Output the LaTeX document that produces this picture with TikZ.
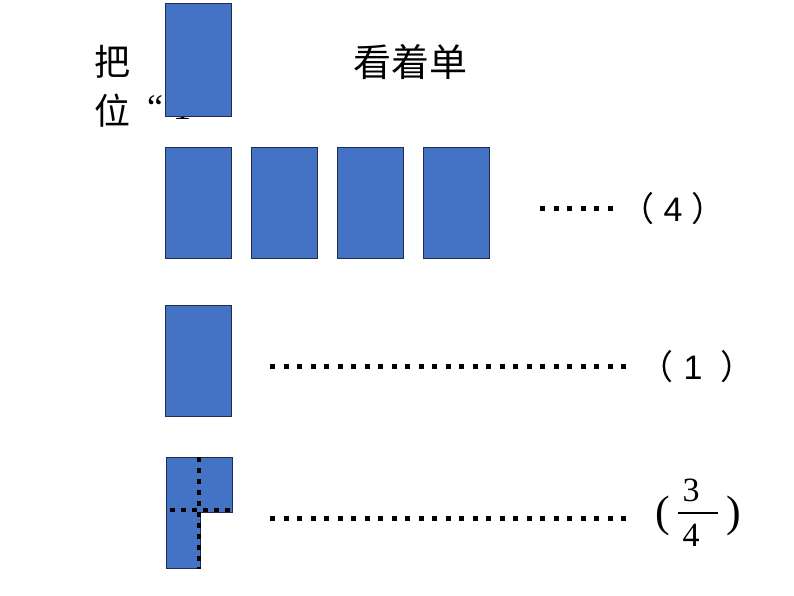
\documentclass[tikz,border=0pt]{standalone}
\usepackage{fontspec}
\setmainfont{Liberation Serif}
\setsansfont{Liberation Sans}
\newfontfamily\cjk{Noto Sans CJK SC}
\definecolor{blokfill}{RGB}{68,114,196}
\definecolor{blokline}{RGB}{30,45,80}
\tikzset{
	blok/.style={draw=blokline,fill=blokfill,line width=0.8pt,minimum width=66pt,minimum height=111pt,inner sep=0pt},
	leader/.style={line width=5pt,dash pattern=on 5pt off 8.5pt},
	cut/.style={line width=4.5pt,dash pattern=on 4.5pt off 6.5pt},
	word/.style={inner sep=0pt,font=\cjk\fontsize{36}{40}\selectfont},
	getal/.style={inner sep=0pt,font=\fontsize{34}{38}\selectfont}
}
\begin{document}
\begin{tikzpicture}[x=1pt,y=-1pt]
		\useasboundingbox (0,0) rectangle (794,596);
		\node[word] (ba) at (112,62) {把};
		\node[word] (wei) at (112,111) {位};
		\node[inner sep=0pt,anchor=base west,font=\fontsize{36}{40}\selectfont] (yi) at (147,120) {“\hspace{10pt}1};
		\node[word,font=\cjk\fontsize{38}{42}\selectfont] (kan) at (410,62) {看着单};
		\node[blok,minimum height=113pt] (top) at (198,59.5) {};
		% vier rechthoeken
		\foreach \i/\x in {1/198,2/284,3/370,4/456}
			\node[blok] (r\i) at (\x,202.5) {};
		\node[blok] (een) at (198,360.5) {};
		% driekwart
		\draw[blokline,fill=blokfill,line width=0.8pt] (166,457) -- (232,457) -- (232,512) -- (200,512) -- (200,568) -- (166,568) -- cycle;
		\draw[cut] (199,457) -- (199,569);
		\draw[cut] (170,510) -- (232,510);
		% labels
		\node[getal] (vier) at (673,209) {{\cjk（}\hspace{9pt}\sffamily 4\hspace{9pt}{\cjk）}};
		\node[getal] (l1) at (697,367) {{\cjk（}\hspace{10pt}\sffamily 1\hspace{18pt}{\cjk）}};
		\node[getal] (teller) at (691,490) {3};
		\node[getal] (noemer) at (691,535) {4};
		\node[inner sep=0pt,font=\fontsize{44}{48}\selectfont] (lp) at (663,516) {(};
		\node[inner sep=0pt,font=\fontsize{44}{48}\selectfont] (rp) at (734,516) {)};
		\coordinate (s1) at (678,513); \coordinate (s2) at (718,513);
		\draw[line width=1.5pt] (s1) -- (s2);
		\coordinate (a4) at (540,208); \coordinate (b4) at (614,208);
		\coordinate (a1) at (270,366); \coordinate (b1) at (634,366);
		\coordinate (a34) at (270,518); \coordinate (b34) at (634,518);
		\draw[leader] (a4) -- (b4);
		\draw[leader] (a1) -- (b1);
		\draw[leader] (a34) -- (b34);
\end{tikzpicture}
\end{document}
